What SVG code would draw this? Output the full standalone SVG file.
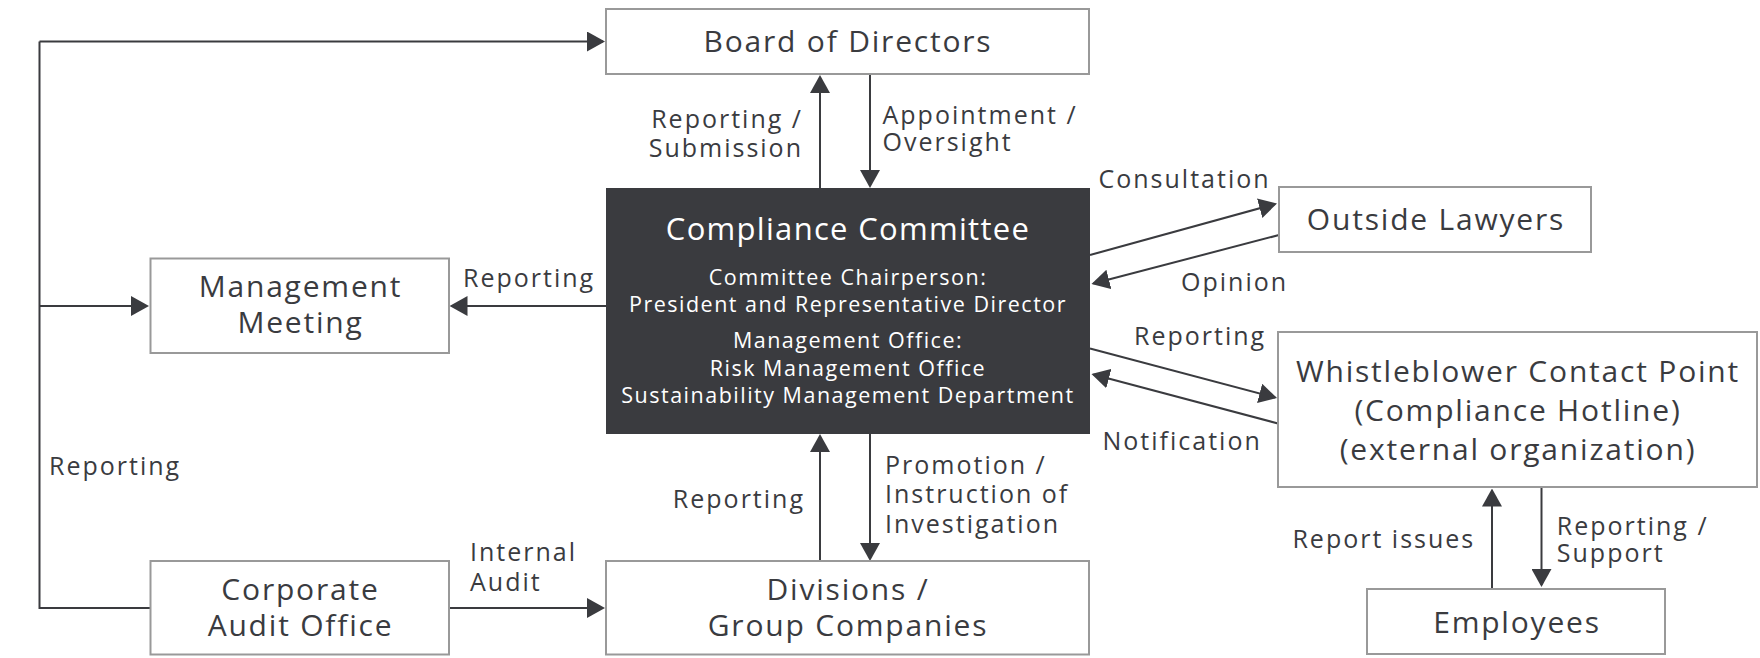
<svg xmlns="http://www.w3.org/2000/svg" width="1760" height="658" viewBox="0 0 1760 658">
<defs>
<marker id="ah" markerUnits="userSpaceOnUse" markerWidth="18" markerHeight="20" refX="16" refY="10" orient="auto">
<path d="M0,0 L18,10 L0,20 z" fill="#3a3b3f"/>
</marker>
<style>
.box{fill:#ffffff;stroke:#999999;stroke-width:2}
.dark{fill:#3a3b3f;stroke:none}
.t{font-family:"Open Sans","Noto Sans","DejaVu Sans",sans-serif;font-size:30px;letter-spacing:1.8px;fill:#3a3b3f;text-anchor:middle}
.ct{font-family:"Open Sans","Noto Sans","DejaVu Sans",sans-serif;font-size:31px;letter-spacing:1.3px;fill:#ffffff;text-anchor:middle}
.cs{font-family:"Open Sans","Noto Sans","DejaVu Sans",sans-serif;font-size:21.5px;letter-spacing:1.5px;fill:#ffffff;text-anchor:middle}
.lb{font-family:"Open Sans","Noto Sans","DejaVu Sans",sans-serif;font-size:25px;letter-spacing:2px;fill:#3a3b3f}
.e{text-anchor:end}
.c{fill:none;stroke:#3a3b3f;stroke-width:2;marker-end:url(#ah)}
.cn{fill:none;stroke:#3a3b3f;stroke-width:2}
</style>
</defs>
<rect width="1760" height="658" fill="#ffffff"/>

<g id="connectors">
<path class="cn" d="M150,608 H39.5 V41.5"/>
<path class="c" d="M39.5,41.5 H603"/>
<path class="c" d="M39.5,306 H147"/>
<path class="c" d="M606,306 H451.5"/>
<path class="c" d="M820,188 V77"/>
<path class="c" d="M870,74 V186"/>
<path class="c" d="M820,561 V436"/>
<path class="c" d="M870,434 V559"/>
<path class="c" d="M449,608 H603"/>
<path class="c" d="M1090,255 L1275.1,204"/>
<path class="c" d="M1279,235 L1093.4,283.5"/>
<path class="c" d="M1090,348.5 L1275.1,397.5"/>
<path class="c" d="M1278,423.5 L1093.4,374.5"/>
<path class="c" d="M1492,589 V490.5"/>
<path class="c" d="M1541.5,487 V585"/>
<text class="lb e" x="803" y="128.3">Reporting /<tspan x="803" y="156.7">Submission</tspan></text>
<text class="lb" x="882.5" y="124">Appointment /<tspan x="882.5" y="151">Oversight</tspan></text>
<text class="lb" x="463" y="287.3">Reporting</text>
<text class="lb" x="49" y="474.7">Reporting</text>
<text class="lb e" x="805" y="508">Reporting</text>
<text class="lb" x="885" y="473.5">Promotion /<tspan x="885" y="503">Instruction of</tspan><tspan x="885" y="533">Investigation</tspan></text>
<text class="lb" x="470" y="561.3">Internal<tspan x="470" y="591.3">Audit</tspan></text>
<text class="lb" x="1098.5" y="188.3">Consultation</text>
<text class="lb" x="1181" y="290.7">Opinion</text>
<text class="lb" x="1134" y="345">Reporting</text>
<text class="lb" x="1102.5" y="450">Notification</text>
<text class="lb e" x="1475.3" y="548">Report issues</text>
<text class="lb" x="1556.8" y="534.7">Reporting /<tspan x="1556.8" y="562">Support</tspan></text>
</g>

<g id="board">
<rect class="box" x="606" y="9" width="483" height="65"/>
<text class="t" x="848" y="52">Board of Directors</text>
</g>

<g id="compliance-committee">
<rect class="dark" x="606" y="188" width="484" height="246"/>
<text class="ct" x="848" y="240">Compliance Committee</text>
<text class="cs" x="848" y="285">Committee Chairperson:<tspan x="848" y="312">President and Representative Director</tspan></text>
<text class="cs" x="848" y="348">Management Office:<tspan x="848" y="375.5">Risk Management Office</tspan><tspan x="848" y="403">Sustainability Management Department</tspan></text>
</g>

<g id="management-meeting">
<rect class="box" x="150.5" y="258.5" width="298.5" height="94.5"/>
<text class="t" x="300.5" y="296.7">Management<tspan x="300.5" y="333.3">Meeting</tspan></text>
</g>

<g id="outside-lawyers">
<rect class="box" x="1279" y="187" width="312" height="65"/>
<text class="t" x="1436" y="230">Outside Lawyers</text>
</g>

<g id="whistleblower">
<rect class="box" x="1278" y="332" width="479" height="155"/>
<text class="t" x="1518" y="381.7">Whistleblower Contact Point<tspan x="1518" y="420.5">(Compliance Hotline)</tspan><tspan x="1518" y="460">(external organization)</tspan></text>
</g>

<g id="corporate-audit">
<rect class="box" x="150.5" y="561" width="298.5" height="93.5"/>
<text class="t" x="300.5" y="599.7">Corporate<tspan x="300.5" y="636.3">Audit Office</tspan></text>
</g>

<g id="divisions">
<rect class="box" x="606" y="561" width="483" height="93.5"/>
<text class="t" x="848" y="599.7">Divisions /<tspan x="848" y="636.3">Group Companies</tspan></text>
</g>

<g id="employees">
<rect class="box" x="1367" y="589" width="298" height="65"/>
<text class="t" x="1517" y="633">Employees</text>
</g>
</svg>
